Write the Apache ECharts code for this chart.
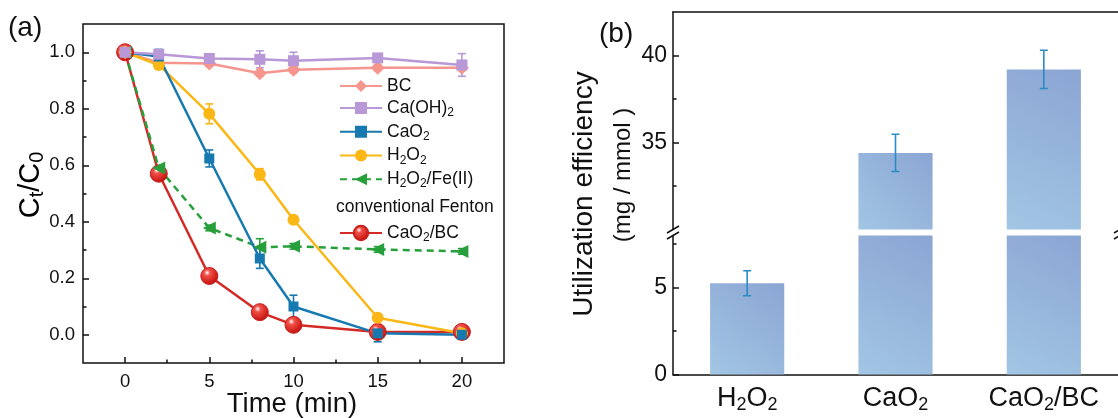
<!DOCTYPE html>
<html>
<head>
<meta charset="utf-8">
<script src="https://cdn.jsdelivr.net/npm/echarts@6.0.0/dist/echarts.min.js"></script>
<style>
  html, body { margin: 0; padding: 0; background: #fff; }
  #chart { width: 1118px; height: 418px; }
</style>
</head>
<body>
<div id="chart"></div>
<script>
// (a) Ct/C0 vs time
const time = [0, 2, 5, 8, 10, 15, 20];
const bc = [1.0, 0.963, 0.96, 0.926, 0.938, 0.945, 0.945];
const bcErr = [0, 0.01, 0.01, 0.01, 0.01, 0.01, 0.01];
const caoh = [1.0, 0.993, 0.978, 0.975, 0.97, 0.98, 0.955];
const caohErr = [0, 0.015, 0.01, 0.03, 0.03, 0.01, 0.04];
const cao2 = [1.0, 0.985, 0.624, 0.27, 0.10, 0.005, 0.0];
const cao2Err = [0, 0.025, 0.03, 0.035, 0.04, 0.03, 0.005];
const h2o2 = [1.0, 0.955, 0.782, 0.568, 0.407, 0.06, 0.005];
const h2o2Err = [0, 0.015, 0.035, 0.02, 0.01, 0.01, 0.005];
const fenton = [1.0, 0.59, 0.378, 0.31, 0.313, 0.302, 0.295];
const fentonErr = [0, 0.01, 0.01, 0.03, 0.01, 0.01, 0.01];
const caobc = [1.0, 0.57, 0.208, 0.08, 0.035, 0.01, 0.01];
const caobcErr = [0, 0, 0, 0, 0.01, 0.02, 0.01];

const xMajor = [0, 5, 10, 15, 20];
const xMinor = [2.5, 7.5, 12.5, 17.5];
const yMajor = [0, 0.2, 0.4, 0.6, 0.8, 1.0];
const yMinor = [0.1, 0.3, 0.5, 0.7, 0.9];

// (b) utilization efficiency, broken y axis
const agents = ['H2O2', 'CaO2', 'CaO2/BC'];
const efficiency = [5.25, 34.4, 39.2];
const efficiencyErr = [0.72, 1.07, 1.1];
const upperMajor = [35, 40];
const upperMinor = [32.5, 37.5];
const lowerMajor = [0, 5];
const lowerMinor = [2.5, 7.5];

const FONT = 'Liberation Sans, Arial, sans-serif';
const INK = '#111';

// subscript rich text
function richStyles(size, subSize) {
  return {
    n: { fontSize: size, lineHeight: size + 4, fontFamily: FONT, color: INK },
    s: { fontSize: subSize, lineHeight: subSize, verticalAlign: 'bottom', fontFamily: FONT, color: INK }
  };
}
const richNames = {
  'BC': '{n|BC}',
  'Ca(OH)2': '{n|Ca(OH)}{s|2}',
  'CaO2': '{n|CaO}{s|2}',
  'H2O2': '{n|H}{s|2}{n|O}{s|2}',
  'H2O2/Fe(II)': '{n|H}{s|2}{n|O}{s|2}{n|/Fe(II)}',
  'CaO2/BC': '{n|CaO}{s|2}{n|/BC}'
};

function pairs(vals, errs) {
  return time.map((t, i) => errs ? [t, vals[i], errs[i]] : [t, vals[i]]);
}

function errorBars(color, capHalf) {
  return function (params, api) {
    const x = api.value(0), y = api.value(1), e = api.value(2);
    if (!e) return { type: 'group', children: [] };
    const hi = api.coord([x, y + e]);
    const lo = api.coord([x, y - e]);
    const style = { stroke: color, lineWidth: 1.6, fill: null };
    return {
      type: 'group',
      children: [
        { type: 'line', shape: { x1: hi[0], y1: hi[1], x2: lo[0], y2: lo[1] }, style },
        { type: 'line', shape: { x1: hi[0] - capHalf, y1: hi[1], x2: hi[0] + capHalf, y2: hi[1] }, style },
        { type: 'line', shape: { x1: lo[0] - capHalf, y1: lo[1], x2: lo[0] + capHalf, y2: lo[1] }, style }
      ]
    };
  };
}

function lineSeries(name, vals, color, extra) {
  return Object.assign({
    name: name,
    type: 'line',
    xAxisIndex: 0,
    yAxisIndex: 0,
    data: pairs(vals),
    symbolSize: 11,
    lineStyle: { color: color, width: 2.5 },
    itemStyle: { color: color },
    emphasis: { disabled: true }
  }, extra || {});
}

function errSeries(vals, errs, color) {
  return {
    type: 'custom',
    xAxisIndex: 0,
    yAxisIndex: 0,
    data: pairs(vals, errs),
    renderItem: errorBars(color, 4),
    z: 3,
    silent: true
  };
}

const sphere = {
  type: 'radial', x: 0.38, y: 0.32, r: 0.75,
  colorStops: [
    { offset: 0, color: '#ffffff' },
    { offset: 0.22, color: '#f0524a' },
    { offset: 0.7, color: '#d3201d' },
    { offset: 1, color: '#a5100f' }
  ]
};

const barFill = new echarts.graphic.LinearGradient(0, 1, 1, 0, [
  { offset: 0, color: '#a2c6e4' },
  { offset: 1, color: '#8ba5d3' }
]);

const colors = {
  bc: '#f6958d', caoh: '#b898d6', cao2: '#1679b0', h2o2: '#fbb715', fenton: '#27a03c', caobc: '#d42a26'
};

const lineSeriesList = [
  lineSeries('CaO2/BC', caobc, colors.caobc, {
    symbol: 'circle', symbolSize: 17,
    itemStyle: { color: sphere, borderColor: '#c81f1d', borderWidth: 1 }
  }),
  lineSeries('H2O2/Fe(II)', fenton, colors.fenton, {
    symbol: 'triangle', symbolRotate: 90, symbolSize: 13,
    lineStyle: { color: colors.fenton, width: 2.5, type: [7, 5] }
  }),
  lineSeries('BC', bc, colors.bc, { symbol: 'diamond', symbolSize: 14 }),
  lineSeries('H2O2', h2o2, colors.h2o2, { symbol: 'circle', symbolSize: 12 }),
  lineSeries('CaO2', cao2, colors.cao2, { symbol: 'rect', symbolSize: 10 }),
  lineSeries('Ca(OH)2', caoh, colors.caoh, { symbol: 'rect', symbolSize: 11 }),
  errSeries(caobc, caobcErr, colors.caobc),
  errSeries(fenton, fentonErr, colors.fenton),
  errSeries(bc, bcErr, colors.bc),
  errSeries(h2o2, h2o2Err, colors.h2o2),
  errSeries(cao2, cao2Err, colors.cao2),
  errSeries(caoh, caohErr, colors.caoh)
];

const barData = agents.map((a, i) => [i, efficiency[i], efficiencyErr[i]]);

function barSeries(gridAxis) {
  return {
    type: 'bar',
    xAxisIndex: gridAxis.x,
    yAxisIndex: gridAxis.y,
    data: efficiency,
    barWidth: '50%',
    clip: true,
    itemStyle: { color: barFill },
    emphasis: { disabled: true },
    silent: true
  };
}
function barErrSeries(gridAxis) {
  return {
    type: 'custom',
    xAxisIndex: gridAxis.x,
    yAxisIndex: gridAxis.y,
    data: barData,
    clip: true,
    renderItem: errorBars('#2a8cc6', 4),
    z: 3,
    silent: true
  };
}

const tickStyle = { color: INK, width: 1.5 };

function minorAxis(base, values, len) {
  return Object.assign({}, base, {
    axisLine: { show: false, onZero: false },
    axisLabel: { show: false },
    axisTick: { show: true, inside: true, length: len, lineStyle: tickStyle, customValues: values },
    splitLine: { show: false }
  });
}

const leftX = { type: 'value', gridIndex: 0, min: -2.5, max: 22.5, position: 'bottom' };
const leftY = { type: 'value', gridIndex: 0, min: -0.1, max: 1.1, position: 'left' };
const upY = { type: 'value', gridIndex: 1, min: 30, max: 42.5, position: 'left' };
const lowY = { type: 'value', gridIndex: 2, min: 0, max: 8, position: 'left' };

const chart = echarts.init(document.getElementById('chart'), null, { renderer: 'canvas' });

const option = {
  animation: false,
  backgroundColor: '#fff',
  textStyle: { fontFamily: FONT },
  grid: [
    { left: 83, top: 24, width: 421, height: 339, show: true, borderColor: INK, borderWidth: 1.5, backgroundColor: 'transparent' },
    { left: 673, top: 12, width: 448, height: 217.5 },
    { left: 673, top: 235.5, width: 448, height: 139 }
  ],
  xAxis: [
    Object.assign({}, leftX, {
      axisLine: { show: false, onZero: false },
      axisTick: { show: true, inside: true, length: 6, lineStyle: tickStyle, customValues: xMajor },
      axisLabel: { customValues: xMajor, fontSize: 18.5, color: INK, margin: 9, fontFamily: FONT },
      splitLine: { show: false }
    }),
    minorAxis(leftX, xMinor, 3.5),
    {
      type: 'category', gridIndex: 1, data: agents, position: 'top',
      axisLine: { show: true, lineStyle: { color: INK, width: 1.5 } },
      axisTick: { show: false }, axisLabel: { show: false }, splitLine: { show: false }
    },
    {
      type: 'category', gridIndex: 2, data: agents, position: 'bottom',
      axisLine: { show: true, onZero: false, lineStyle: { color: INK, width: 1.5 } },
      axisTick: { show: false },
      axisLabel: {
        margin: 9,
        formatter: v => richNames[v],
        rich: richStyles(27, 18)
      },
      splitLine: { show: false }
    }
  ],
  yAxis: [
    Object.assign({}, leftY, {
      axisLine: { show: false, onZero: false },
      axisTick: { show: true, inside: true, length: 6, lineStyle: tickStyle, customValues: yMajor },
      axisLabel: { customValues: yMajor, fontSize: 18.5, color: INK, margin: 8, fontFamily: FONT, formatter: v => v.toFixed(1) },
      splitLine: { show: false }
    }),
    minorAxis(leftY, yMinor, 3.5),
    Object.assign({}, upY, {
      axisLine: { show: true, onZero: false, lineStyle: { color: INK, width: 1.5 } },
      axisTick: { show: true, inside: true, length: 6, lineStyle: tickStyle, customValues: upperMajor },
      axisLabel: { customValues: upperMajor, fontSize: 23, color: INK, margin: 6, fontFamily: FONT },
      splitLine: { show: false }
    }),
    minorAxis(upY, upperMinor, 3.5),
    Object.assign({}, lowY, {
      axisLine: { show: true, onZero: false, lineStyle: { color: INK, width: 1.5 } },
      axisTick: { show: true, inside: true, length: 6, lineStyle: tickStyle, customValues: lowerMajor },
      axisLabel: { customValues: lowerMajor, fontSize: 23, color: INK, margin: 6, fontFamily: FONT },
      splitLine: { show: false }
    }),
    minorAxis(lowY, lowerMinor, 3.5)
  ],
  legend: [
    {
      data: ['BC', 'Ca(OH)2', 'CaO2', 'H2O2', 'H2O2/Fe(II)'],
      orient: 'vertical', left: 334, top: 72, itemWidth: 42, itemHeight: 15, itemGap: 4,
      selectedMode: false,
      formatter: n => richNames[n],
      textStyle: { rich: richStyles(17.5, 12) }
    },
    {
      data: ['CaO2/BC'],
      orient: 'vertical', left: 334, top: 219, itemWidth: 42, itemHeight: 18,
      selectedMode: false,
      formatter: n => richNames[n],
      textStyle: { rich: richStyles(17.5, 12) }
    }
  ],
  graphic: [
    { type: 'text', left: 8, top: 14, style: { text: '(a)', fontSize: 28, fontFamily: FONT, fill: INK } },
    { type: 'text', left: 599, top: 20, style: { text: '(b)', fontSize: 28, fontFamily: FONT, fill: INK } },
    { type: 'text', left: 336, top: 198, style: { text: 'conventional Fenton', fontSize: 17.5, fontFamily: FONT, fill: INK } },
    {
      type: 'text', x: 31, y: 185, rotation: Math.PI / 2,
      style: { text: '{n|C}{s|t}{n|/C}{s|0}', rich: richStyles(29, 20), align: 'center', verticalAlign: 'middle' }
    },
    { type: 'text', x: 292, y: 404, style: { text: 'Time (min)', fontSize: 27.5, fontFamily: FONT, fill: INK, align: 'center', verticalAlign: 'middle' } },
    { type: 'text', x: 584, y: 194, rotation: Math.PI / 2, style: { text: 'Utilization efficiency', fontSize: 28, fontFamily: FONT, fill: INK, align: 'center', verticalAlign: 'middle' } },
    { type: 'text', x: 623, y: 175, rotation: Math.PI / 2, style: { text: '(mg / mmol )', fontSize: 24, fontFamily: FONT, fill: INK, align: 'center', verticalAlign: 'middle' } },
    // axis break marks
    {
      type: 'group', x: 673, y: 232.5, z: 10,
      children: [
        { type: 'line', shape: { x1: -6, y1: 0.5, x2: 6, y2: -6.5 }, style: { stroke: INK, lineWidth: 1.5 } },
        { type: 'line', shape: { x1: -6, y1: 6.5, x2: 6, y2: -0.5 }, style: { stroke: INK, lineWidth: 1.5 } }
      ]
    },
    {
      type: 'group', x: 1120, y: 232.5, z: 10,
      children: [
        { type: 'line', shape: { x1: -6, y1: 0.5, x2: 6, y2: -6.5 }, style: { stroke: INK, lineWidth: 1.5 } },
        { type: 'line', shape: { x1: -6, y1: 6.5, x2: 6, y2: -0.5 }, style: { stroke: INK, lineWidth: 1.5 } }
      ]
    }
  ],
  series: lineSeriesList.concat([
    barSeries({ x: 2, y: 2 }),
    barSeries({ x: 3, y: 4 }),
    barErrSeries({ x: 2, y: 2 }),
    barErrSeries({ x: 3, y: 4 })
  ])
};

chart.setOption(option);
window.addEventListener('resize', () => chart.resize());
</script>
</body>
</html>
